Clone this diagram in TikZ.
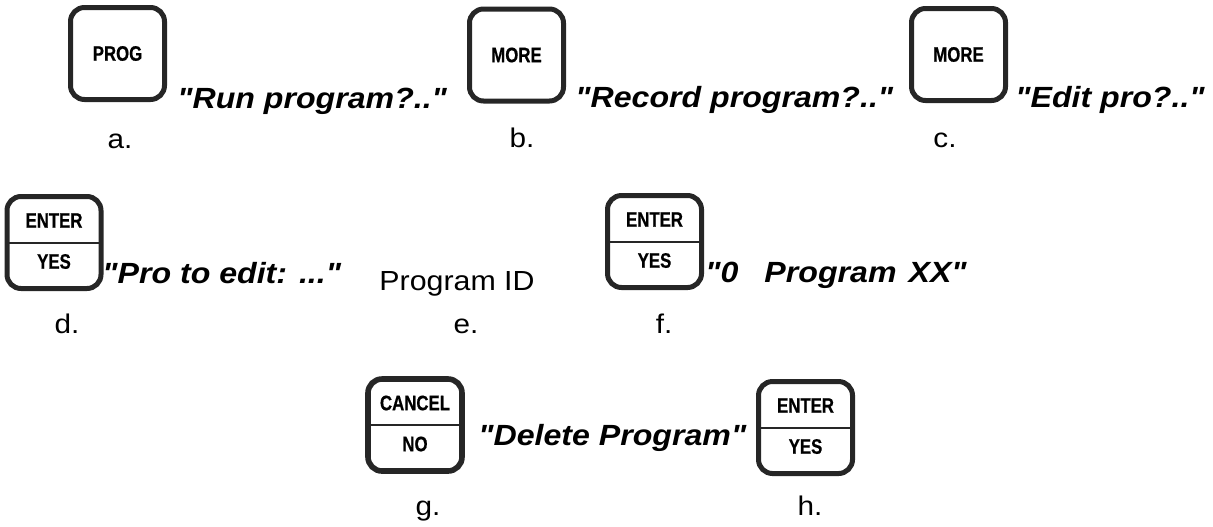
\documentclass[tikz,border=0pt]{standalone}
\usepackage{fontspec}
\newfontfamily\keyfont{Liberation Sans}[FakeStretch=0.8,BoldFeatures={FakeBold=0.6}]
\newfontfamily\wordfont{Liberation Sans}[FakeStretch=1.1]
\begin{document}
\begin{tikzpicture}[x=0.5pt,y=-0.5pt,
		key/.style={shape=rectangle, draw=black!85, line width=2.5pt, rounded corners=7pt, minimum width=47pt, minimum height=46pt, inner sep=0pt, font=\keyfont\bfseries\fontsize{10.5}{11}\selectfont},
		keytext/.style={inner sep=0pt, font=\keyfont\bfseries\fontsize{10.5}{11}\selectfont},
		msg/.style={anchor=base west, inner sep=0pt, font=\wordfont\bfseries\itshape\fontsize{14.6}{16}\selectfont},
		lbl/.style={anchor=base, inner sep=0pt, font=\wordfont\fontsize{13.5}{15}\selectfont}]
		\useasboundingbox (0,0) rectangle (1213,526);
		% first row
		\node (keya) at (117.5,53.5) [key] {PROG};
		\node (keyb) at (516.5,55) [key] {MORE};
		\node (keyc) at (958.5,54.5) [key] {MORE};
		\node (msga) at (177,108) [msg] {"Run program?.."};
		\node (msgb) at (575,107) [msg] {"Record program?.."};
		\node (msgc) at (1015,107) [msg] {"Edit pro?.."};
		\node (lbla) at (120,148) [lbl] {a.};
		\node (lblb) at (522,147) [lbl] {b.};
		\node (lblc) at (945,147) [lbl] {c.};
		% second row
		\node (keyd) at (54,242.5) [key] {};
		\node (keyf) at (654.5,241.5) [key] {};
		\draw[black!85, line width=1pt] ([xshift=2pt]keyd.west) -- ([xshift=-2pt]keyd.east);
		\draw[black!85, line width=1pt] ([xshift=2pt]keyf.west) -- ([xshift=-2pt]keyf.east);
		\node (topd) at ([yshift=11pt]keyd.center) [keytext] {ENTER};
		\node (botd) at ([yshift=-9.5pt]keyd.center) [keytext] {YES};
		\node (topf) at ([yshift=11pt]keyf.center) [keytext] {ENTER};
		\node (botf) at ([yshift=-9.5pt]keyf.center) [keytext] {YES};
		\node (msgd) at (102,283) [msg] {"Pro to edit: ..."};
		\node (ide) at (379,290) [msg, font=\wordfont\fontsize{13.8}{15}\selectfont] {Program ID};
		\node (msgf) at (705,282) [msg] {"0\hspace{13pt}Program\hspace{6pt}XX"};
		\node (lbld) at (67,333) [lbl] {d.};
		\node (lble) at (466,333) [lbl] {e.};
		\node (lblf) at (664,333) [lbl] {f.};
		% third row
		\node (keyg) at (415,425) [key, line width=2.8pt] {};
		\node (keyh) at (805.5,427.5) [key] {};
		\draw[black!85, line width=1pt] ([xshift=2pt]keyg.west) -- ([xshift=-2pt]keyg.east);
		\draw[black!85, line width=1pt] ([xshift=2pt]keyh.west) -- ([xshift=-2pt]keyh.east);
		\node (topg) at ([yshift=11pt]keyg.center) [keytext] {CANCEL};
		\node (botg) at ([yshift=-9.5pt]keyg.center) [keytext] {NO};
		\node (toph) at ([yshift=11pt]keyh.center) [keytext] {ENTER};
		\node (both) at ([yshift=-9.5pt]keyh.center) [keytext] {YES};
		\node (msgg) at (478,445) [msg] {"Delete Program"};
		\node (lblg) at (428,515) [lbl] {g.};
		\node (lblh) at (810,515) [lbl] {h.};
		\end{tikzpicture}
\end{document}
